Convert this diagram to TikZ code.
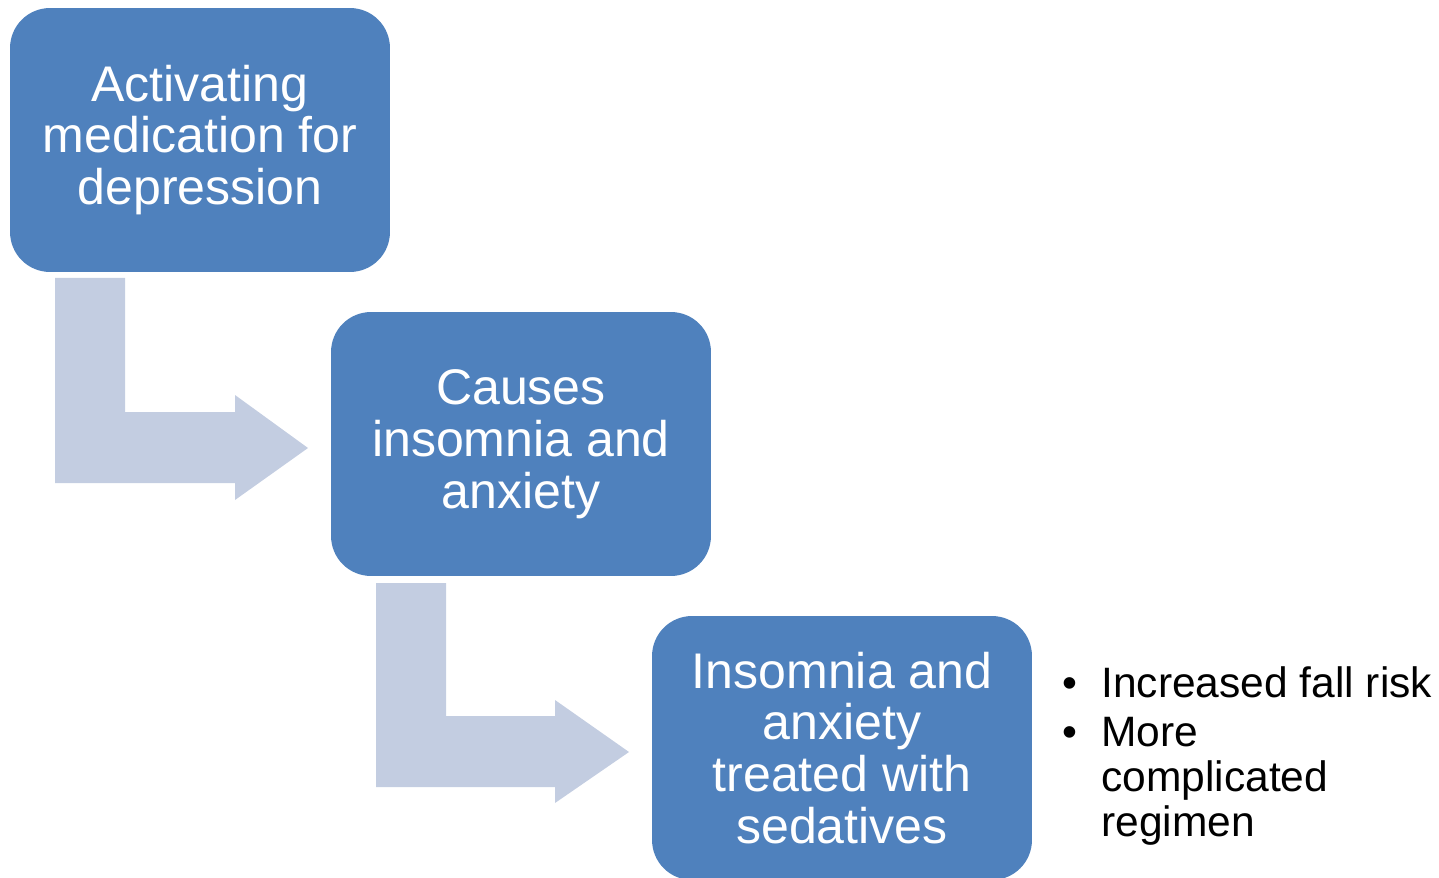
\documentclass[tikz,border=0pt]{standalone}
\usepackage{fontspec}
\setmainfont{Liberation Sans}
\usepackage{xcolor}
\usepackage{tikz}
\usetikzlibrary{positioning}
\definecolor{boxblue}{RGB}{79,129,189}
\definecolor{bendgray}{RGB}{195,205,225}

\begin{document}
\begin{tikzpicture}[x=0.02cm, y=-0.02cm,
      stage/.style={rectangle, rounded corners=0.8cm, fill=boxblue, text=white,
                minimum width=7.6cm, minimum height=5.28cm, align=center,
                font=\fontsize{28.5}{29.5}\selectfont},
      bentarrow/.style={fill=bendgray, draw=none}
    ]
      \useasboundingbox (0,0) rectangle (1439,878);
      % bent arrows behind the boxes
      \fill[bentarrow] (55,278) -- (125,278) -- (125,412) -- (235,412) -- (235,395)
        -- (308,448) -- (235,500) -- (235,483) -- (55,483) -- cycle;
      \fill[bentarrow] (376,583) -- (446,583) -- (446,716) -- (555,716) -- (555,700)
        -- (629,752) -- (555,803) -- (555,787) -- (376,787) -- cycle;
      \node[stage] (med) at (200,140) {Activating\\medication for\\depression};
      \node[stage] (ins) at (521,444) {Causes\\insomnia and\\anxiety};
      \node[stage] (sed) at (842,748) {Insomnia and\\anxiety\\treated with\\sedatives};
      \node[anchor=north west, inner sep=0pt, align=left,
            font=\fontsize{24.2}{25.5}\selectfont] (risk) at (1062,666)
        {\makebox[0.78cm][l]{\textbullet}Increased fall risk\\[0.1cm]
         \makebox[0.78cm][l]{\textbullet}More\\
         \hspace*{0.78cm}complicated\\
         \hspace*{0.78cm}regimen};
    \end{tikzpicture}
\end{document}
